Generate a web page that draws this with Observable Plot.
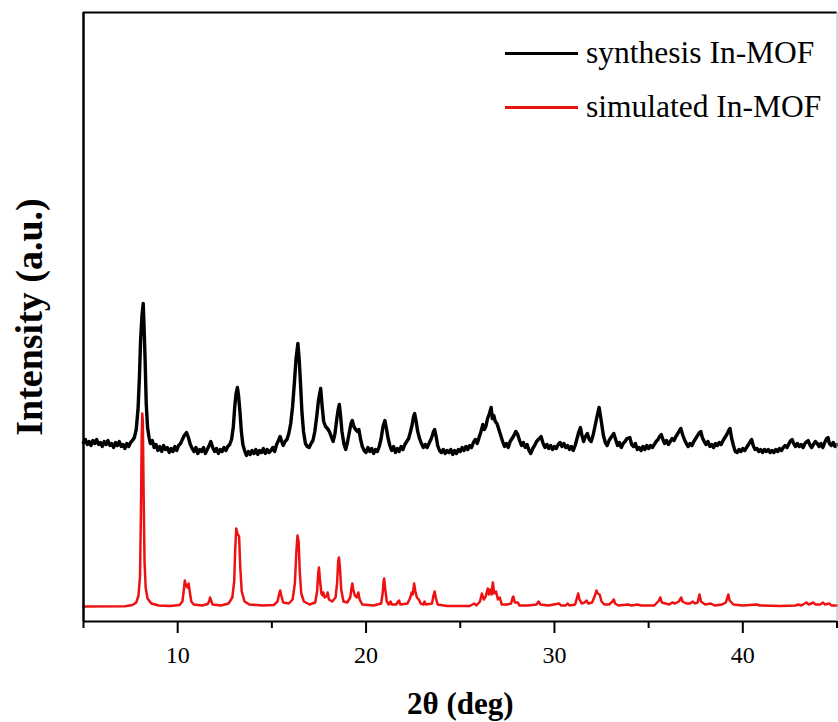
<!DOCTYPE html>
<html>
<head>
<meta charset="utf-8">
<script src="https://cdn.jsdelivr.net/npm/d3@7"></script>
<script src="https://cdn.jsdelivr.net/npm/@observablehq/plot@0.6"></script>
<style>
  html, body { margin: 0; padding: 0; background: #fff; }
  #wrap { position: relative; width: 838px; height: 722px; font-family: "Liberation Serif", "Times New Roman", serif; }
  #legend { position: absolute; left: 505px; top: 26px; font-size: 31.5px; color: #000; }
  .item { display: flex; align-items: center; height: 54px; }
  .swatch { width: 73px; height: 0; border-top: 3px solid; margin-right: 8px; }
  svg text { font-family: "Liberation Serif", "Times New Roman", serif; }
</style>
</head>
<body>
<div id="wrap"><div id="legend"></div></div>
<script>
// 2θ (deg) and intensity (a.u., arbitrary offset units)
const synthesis = [
[5.0,179],[5.1,182],[5.2,177],[5.3,180],[5.4,176],[5.5,181],[5.6,178],[5.7,182],[5.8,177],[5.9,179],
[6.0,175],[6.1,180],[6.2,177],[6.3,181],[6.4,176],[6.5,178],[6.6,174],[6.7,179],[6.8,176],[6.9,180],
[7.0,175],[7.1,177],[7.2,173],[7.3,178],[7.4,175],[7.5,179],[7.6,181],[7.7,184],[7.8,192],[7.9,214],
[7.97,245],[8.03,281],[8.1,305],[8.17,318],[8.22,292],[8.27,262],[8.33,218],[8.4,194],[8.48,184],[8.55,178],
[8.65,181],[8.75,174],[8.85,177],[8.95,171],[9.05,175],[9.15,170],[9.25,176],[9.35,172],[9.45,174],[9.55,169],
[9.65,173],[9.75,170],[9.85,175],[9.95,171],[10.05,176],[10.15,178],[10.25,182],[10.35,186],[10.47,189],[10.57,184],
[10.67,177],[10.77,173],[10.87,170],[10.97,174],[11.07,168],[11.17,172],[11.27,170],[11.37,174],[11.47,168],[11.57,172],
[11.67,176],[11.76,180],[11.86,174],[11.96,170],[12.06,173],[12.16,168],[12.26,172],[12.36,170],[12.46,174],[12.56,171],
[12.66,175],[12.76,177],[12.86,182],[12.95,194],[13.03,215],[13.1,228],[13.17,234],[13.23,226],[13.3,211],[13.38,190],
[13.46,177],[13.55,171],[13.65,166],[13.75,170],[13.85,167],[13.95,171],[14.05,168],[14.15,172],[14.25,167],[14.35,171],
[14.45,169],[14.55,173],[14.65,168],[14.75,172],[14.85,169],[14.95,171],[15.05,174],[15.15,170],[15.25,177],[15.35,181],
[15.44,185],[15.52,180],[15.6,176],[15.7,180],[15.8,182],[15.9,188],[16.0,198],[16.1,215],[16.2,240],[16.28,262],
[16.38,278],[16.45,262],[16.52,238],[16.6,208],[16.68,190],[16.78,178],[16.88,175],[16.98,174],[17.08,178],[17.18,181],
[17.28,190],[17.38,205],[17.48,222],[17.59,233],[17.67,215],[17.75,200],[17.85,195],[17.95,193],[18.05,190],[18.15,185],
[18.25,180],[18.35,188],[18.45,203],[18.52,212],[18.58,217],[18.65,205],[18.72,190],[18.82,178],[18.92,172],[19.02,180],
[19.12,190],[19.2,198],[19.27,201],[19.35,195],[19.45,192],[19.55,190],[19.62,192],[19.7,183],[19.8,175],[19.9,171],
[20.0,169],[20.1,174],[20.2,170],[20.3,173],[20.4,168],[20.5,172],[20.6,170],[20.7,175],[20.8,183],[20.9,195],
[21.0,201],[21.08,193],[21.16,184],[21.26,176],[21.36,171],[21.46,175],[21.56,169],[21.66,173],[21.76,170],[21.86,175],
[21.96,172],[22.06,177],[22.16,180],[22.26,183],[22.36,190],[22.46,198],[22.52,205],[22.58,208],[22.66,200],[22.74,190],
[22.84,183],[22.94,178],[23.04,174],[23.14,177],[23.24,174],[23.34,178],[23.44,182],[23.52,186],[23.58,190],[23.64,192],
[23.72,185],[23.8,176],[23.9,171],[24.0,169],[24.1,172],[24.2,168],[24.3,171],[24.4,169],[24.5,172],[24.6,167],
[24.7,171],[24.8,168],[24.9,172],[25.0,170],[25.1,174],[25.2,171],[25.3,175],[25.4,172],[25.5,176],[25.6,174],
[25.7,179],[25.8,182],[25.9,178],[26.0,184],[26.1,190],[26.2,197],[26.28,192],[26.36,195],[26.45,203],[26.55,208],
[26.64,214],[26.7,203],[26.78,206],[26.86,200],[26.95,198],[27.05,192],[27.15,186],[27.25,180],[27.35,175],[27.45,178],
[27.55,174],[27.65,180],[27.75,183],[27.85,186],[27.95,190],[28.05,187],[28.15,181],[28.25,176],[28.35,179],[28.45,174],
[28.55,177],[28.65,171],[28.74,168],[28.85,173],[28.95,176],[29.05,180],[29.15,182],[29.29,185],[29.4,178],[29.5,174],
[29.6,177],[29.7,173],[29.8,176],[29.9,172],[30.0,175],[30.1,173],[30.2,177],[30.3,179],[30.4,175],[30.5,178],
[30.6,174],[30.7,176],[30.8,172],[30.9,175],[31.0,171],[31.1,176],[31.2,183],[31.3,190],[31.38,194],[31.46,186],
[31.55,180],[31.65,185],[31.75,188],[31.85,182],[31.95,180],[32.05,186],[32.15,195],[32.25,204],[32.32,210],[32.37,214],
[32.45,205],[32.52,196],[32.6,186],[32.7,179],[32.8,176],[32.9,181],[33.0,184],[33.08,186],[33.15,188],[33.25,182],
[33.35,176],[33.45,179],[33.55,174],[33.65,178],[33.75,180],[33.85,183],[34.0,184],[34.1,177],[34.2,175],[34.3,178],
[34.4,172],[34.5,174],[34.6,171],[34.7,175],[34.8,172],[34.9,176],[35.0,173],[35.1,176],[35.2,174],[35.3,177],
[35.4,180],[35.5,182],[35.58,185],[35.67,187],[35.76,182],[35.85,178],[35.95,181],[36.05,177],[36.15,180],[36.25,183],
[36.35,181],[36.45,185],[36.55,188],[36.64,191],[36.71,193],[36.8,187],[36.9,182],[37.0,178],[37.1,175],[37.2,178],
[37.3,176],[37.4,180],[37.5,183],[37.6,186],[37.7,189],[37.77,190],[37.85,184],[37.95,180],[38.05,177],[38.15,180],
[38.25,175],[38.35,177],[38.45,174],[38.55,178],[38.65,176],[38.75,179],[38.85,177],[38.95,181],[39.05,184],[39.15,187],
[39.25,191],[39.32,193],[39.4,184],[39.5,176],[39.6,170],[39.7,169],[39.8,172],[39.9,170],[40.0,173],[40.1,171],
[40.2,174],[40.3,177],[40.4,180],[40.47,182],[40.55,176],[40.65,172],[40.75,173],[40.85,170],[40.95,172],[41.05,169],
[41.15,172],[41.25,170],[41.35,172],[41.45,169],[41.55,171],[41.65,169],[41.75,172],[41.85,170],[41.95,173],[42.05,171],
[42.15,174],[42.25,176],[42.35,174],[42.45,178],[42.55,181],[42.62,182],[42.7,178],[42.8,175],[42.9,178],[43.0,175],
[43.1,177],[43.2,174],[43.3,178],[43.4,180],[43.47,181],[43.55,177],[43.65,174],[43.75,177],[43.85,180],[43.95,178],
[44.05,175],[44.15,178],[44.25,174],[44.35,179],[44.45,183],[44.52,184],[44.6,178],[44.7,176],[44.8,179],[44.9,175],
[45.0,177]
];

const simulated = [
[5,15],[7.2,15.3],[7.6,16.5],[7.8,19],[7.92,26],[8.0,45],[8.05,110],[8.09,185],[8.12,208],[8.15,200],
[8.19,130],[8.24,60],[8.3,34],[8.4,23],[8.6,18],[9.0,16],[9.6,15.5],[10.1,16.5],[10.25,20],[10.33,32],
[10.38,41],[10.44,36],[10.52,34],[10.58,38],[10.64,30],[10.72,20],[10.85,17],[11.3,16],[11.6,17.5],[11.68,21],
[11.72,24],[11.77,21],[11.85,17],[12.3,16],[12.7,18],[12.9,24],[13.0,40],[13.06,75],[13.11,93],[13.17,88],
[13.26,85],[13.32,55],[13.4,30],[13.55,20],[13.8,17],[14.5,16],[15.1,16.5],[15.3,20],[15.38,27],[15.44,31],
[15.5,26],[15.6,19],[15.9,18],[16.1,22],[16.22,38],[16.3,70],[16.36,86],[16.42,80],[16.48,50],[16.56,28],
[16.7,20],[17.0,17],[17.3,19],[17.4,30],[17.46,48],[17.5,54],[17.56,40],[17.63,28],[17.7,26],[17.73,29],
[17.8,24],[17.9,25],[17.96,29],[18.03,22],[18.2,20],[18.38,24],[18.46,38],[18.52,60],[18.56,64],[18.61,55],
[18.68,32],[18.8,20],[19.0,19],[19.16,24],[19.23,34],[19.27,38],[19.32,32],[19.4,26],[19.5,24],[19.59,29],
[19.66,22],[19.8,17],[20.4,16],[20.8,18],[20.88,28],[20.93,40],[20.96,43],[21.02,32],[21.1,20],[21.2,17],
[21.3,20],[21.36,17],[21.6,17],[21.7,20],[21.75,21],[21.82,17],[22.2,18],[22.35,24],[22.42,29],[22.48,27],
[22.55,38],[22.62,30],[22.7,24],[22.8,22],[22.9,18],[23.05,17],[23.1,20],[23.18,17],[23.5,18],[23.58,26],
[23.64,30],[23.7,24],[23.8,17],[24.3,15.5],[25.5,15.5],[25.75,18],[25.85,16],[26.05,20],[26.15,28],[26.25,22],
[26.35,25],[26.46,33],[26.52,27],[26.6,32],[26.66,27],[26.73,39],[26.8,28],[26.9,30],[27.0,22],[27.1,24],
[27.2,17],[27.5,17],[27.7,18],[27.78,24],[27.82,25],[27.9,19],[28.05,19],[28.15,16],[28.6,16],[29.05,17],
[29.16,20],[29.26,17],[29.7,16],[30.25,18],[30.35,16],[30.6,16],[30.7,18],[30.8,16],[31.1,17],[31.2,24],
[31.26,28],[31.33,22],[31.45,18],[31.6,19],[31.7,21],[31.8,18],[32.0,19],[32.15,26],[32.23,31],[32.3,28],
[32.4,27],[32.5,20],[32.65,17],[32.9,17],[33.08,20],[33.15,22],[33.22,18],[33.4,16],[33.9,17],[34.1,16],
[34.4,17],[34.6,16],[35.3,16],[35.55,21],[35.62,24],[35.7,19],[35.9,18],[36.1,17],[36.25,19],[36.4,18],
[36.6,20],[36.73,24],[36.8,20],[37.0,18],[37.2,18],[37.35,20],[37.45,18],[37.6,19],[37.7,27],[37.78,20],
[38.0,17],[38.3,18],[38.5,16],[38.9,17],[39.1,19],[39.18,24],[39.23,27],[39.3,21],[39.5,17],[40.0,16],
[40.75,17],[40.9,16],[42.0,15.5],[42.8,16],[42.95,17],[43.1,16],[43.38,19],[43.5,17],[43.75,19],[43.85,17],
[44.1,17],[44.26,19],[44.35,17],[44.6,18],[44.7,16],[45,16]
];

const seriesNames = ["synthesis In-MOF", "simulated In-MOF"];
const seriesColors = ["#000000", "#ee1111"];
const xDomain = [5, 45];
const yDomain = [0, 609];
const majorTicks = [10, 20, 30, 40];
const minorTicks = [5, 15, 25, 35, 45];
const xLabel = "2θ (deg)";
const yLabel = "Intensity (a.u.)";

const font = "'Liberation Serif', 'Times New Roman', serif";

const chart = Plot.plot({
  width: 838,
  height: 722,
  marginLeft: 83,
  marginRight: 1.5,
  marginTop: 12,
  marginBottom: 101,
  style: { fontFamily: font, background: "transparent", overflow: "visible" },
  x: { domain: xDomain },
  y: { domain: yDomain, axis: null },
  marks: [
    Plot.line(synthesis, { x: d => d[0], y: d => d[1], stroke: seriesColors[0], strokeWidth: 3.4, strokeLinejoin: "round" }),
    Plot.line(simulated, { x: d => d[0], y: d => d[1], stroke: seriesColors[1], strokeWidth: 2.5, strokeLinejoin: "round" }),
    Plot.ruleX([xDomain[1]], { stroke: "#b0b0b0", strokeWidth: 1 }),
    Plot.ruleY([yDomain[1]], { stroke: "#000", strokeWidth: 2.2 }),
    Plot.ruleX([xDomain[0]], { stroke: "#000", strokeWidth: 2.5 }),
    Plot.ruleY([yDomain[0]], { stroke: "#000", strokeWidth: 2.2 }),
    Plot.axisX({ ticks: minorTicks, tickSize: 7, strokeWidth: 2, tickFormat: () => "", label: null }),
    Plot.axisX({ ticks: majorTicks, tickSize: 12, tickPadding: 12, strokeWidth: 2, fontSize: 24, fontFamily: font, fill: "#000", label: null }),
    Plot.text([xLabel], { frameAnchor: "bottom", lineAnchor: "bottom", dy: 92, fontSize: 31, fontWeight: "bold", fontFamily: font, fill: "#000" }),
    Plot.text([yLabel], { frameAnchor: "left", textAnchor: "middle", rotate: -90, dx: -54, fontSize: 38, fontWeight: "bold", fontFamily: font, fill: "#000" })
  ]
});
chart.style.position = "absolute";
chart.style.left = "0";
chart.style.top = "0";
const wrap = document.getElementById("wrap");
wrap.insertBefore(chart, wrap.firstChild);

const legend = document.getElementById("legend");
seriesNames.forEach((name, i) => {
  const item = document.createElement("div");
  item.className = "item";
  const sw = document.createElement("span");
  sw.className = "swatch";
  sw.style.borderTopColor = seriesColors[i];
  const label = document.createElement("span");
  label.textContent = name;
  item.appendChild(sw);
  item.appendChild(label);
  legend.appendChild(item);
});
</script>
</body>
</html>
